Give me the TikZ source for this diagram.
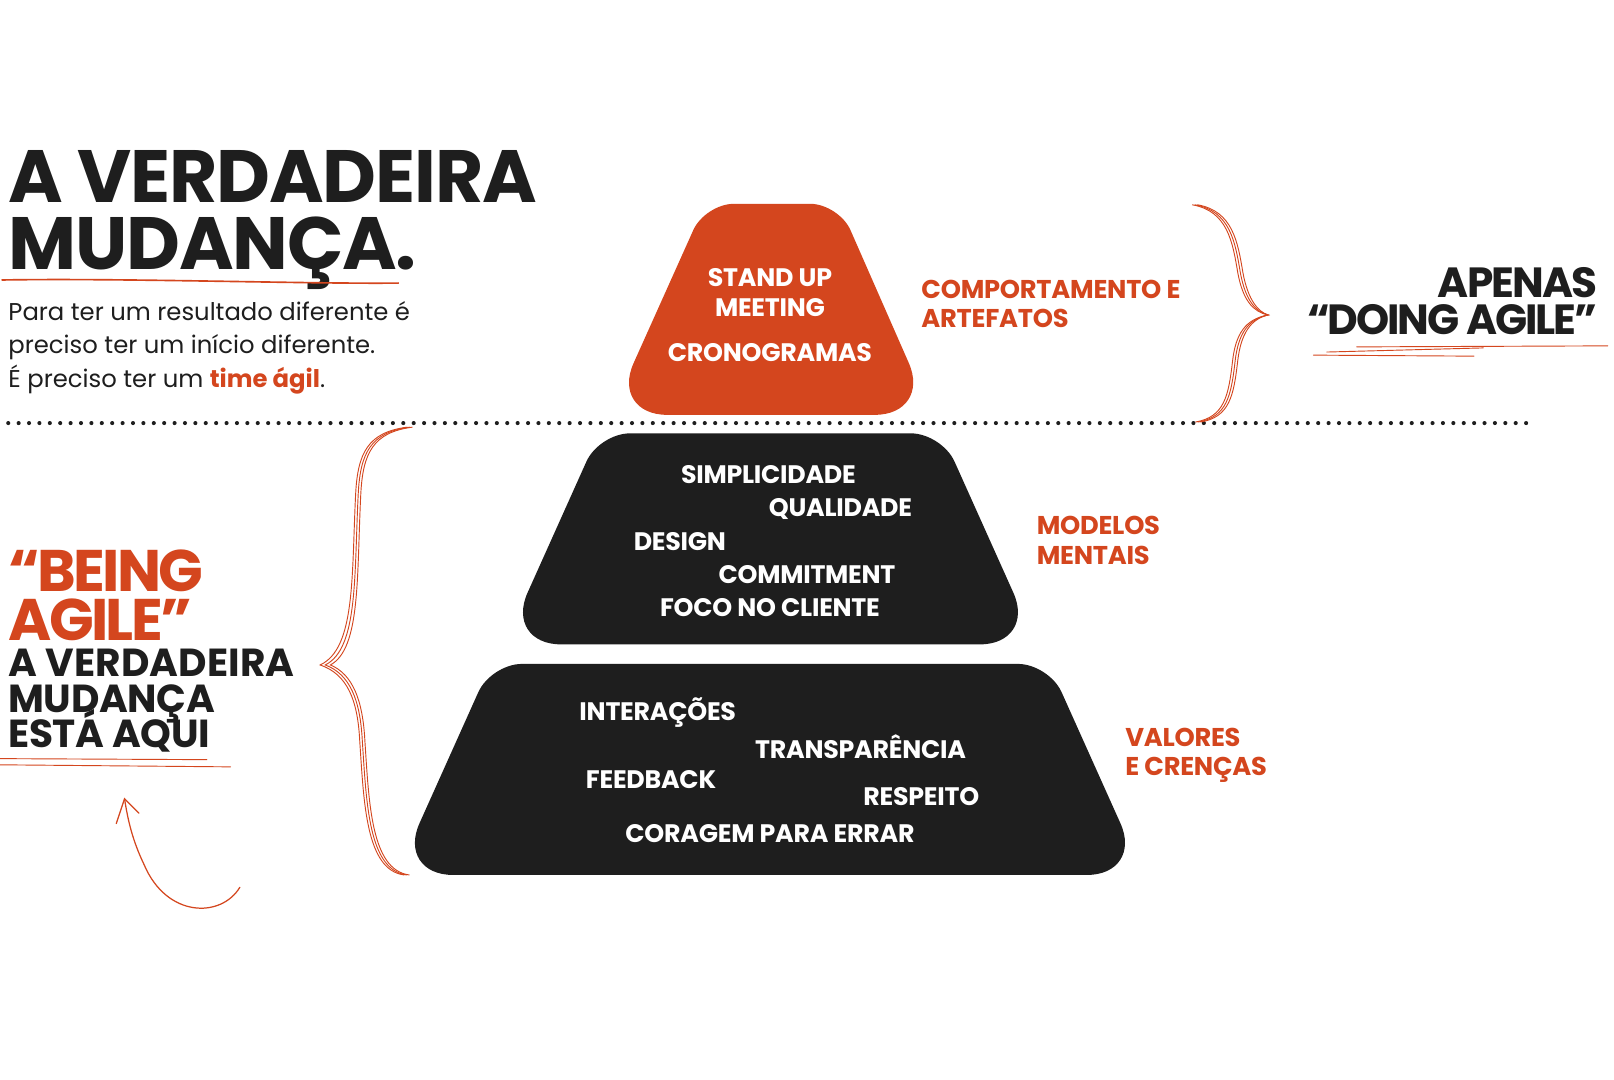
\documentclass[tikz,border=0pt]{standalone}
\usepackage{fontspec}
\setmainfont{Poppins}
\usetikzlibrary{positioning}
\definecolor{laranja}{HTML}{D4461E}
\definecolor{escuro}{HTML}{1E1E1E}
\tikzset{
  camada/.style={fill=escuro},
  palavra/.style={text=white,font=\bfseries\fontsize{24.6}{24.6}\selectfont\addfontfeature{LetterSpace=-1},inner sep=0pt,anchor=base},
  rotulo/.style={text=laranja,font=\bfseries\fontsize{25}{25}\selectfont\addfontfeature{LetterSpace=-1},inner sep=0pt,anchor=base west},
  titulo/.style={text=escuro,font=\bfseries\fontsize{72}{72}\selectfont\addfontfeature{LetterSpace=-1.6},inner sep=0pt,anchor=base west},
  texto/.style={text=escuro,font=\fontsize{23.6}{23.6}\selectfont,inner sep=0pt,anchor=base west},
  chamada/.style 2 args={font=\bfseries\fontsize{#1}{#1}\selectfont\addfontfeature{LetterSpace=#2},inner sep=0pt},
  traco/.style={draw=laranja,line width=0.9pt,line cap=round},
  pontos/.style={draw=escuro,line width=4pt,line cap=round,dash pattern=on 0pt off 10.1pt}
}
\begin{document}
\begin{tikzpicture}[x=1pt,y=-1pt]
\useasboundingbox[fill=white] (0,0) rectangle (1568,1049);

\node[titulo] (tit1) at (8,197) {A VERDADEIRA};
\node[titulo] (tit2) at (8,262) {MUDANÇA.};
\draw[traco,line width=1.6pt] (2,272) .. controls (120,270) and (300,276) .. (387,275);
\node[texto] (par1) at (8,311) {Para ter um resultado diferente é};
\node[texto] (par2) at (8,343.5) {preciso ter um início diferente.};
\node[texto] (par3) at (8,376) {É preciso ter um \textcolor{laranja}{\bfseries time ágil}.};

\draw[pontos] (8,411) -- (1485,411);

\fill[laranja] (749,403) [rounded corners=55pt] -- (593,403) [rounded corners=28pt] -- (685,198) -- (815,198) [rounded corners=55pt] -- (905,403) -- cycle;
\fill[camada] (748,626) [rounded corners=55pt] -- (490,626) [rounded corners=30pt] -- (582,421) -- (915,421) [rounded corners=55pt] -- (1007,626) -- cycle;
\fill[camada] (748,850) [rounded corners=55pt] -- (385,850) [rounded corners=30pt] -- (477,645) -- (1019,645) [rounded corners=55pt] -- (1111,850) -- cycle;

\node[palavra] (stand) at (748,278) {STAND UP};
\node[palavra] (meet) at (748,307) {MEETING};
\node[palavra] (crono) at (748,351.5) {CRONOGRAMAS};
\node[rotulo] (comp1) at (895,290) {COMPORTAMENTO E};
\node[rotulo] (comp2) at (895,318) {ARTEFATOS};

\node[palavra] (simp) at (746.5,469.5) {SIMPLICIDADE};
\node[palavra] (qual) at (816.5,501.5) {QUALIDADE};
\node[palavra] (desi) at (660.5,534.5) {DESIGN};
\node[palavra] (comm) at (784,566.5) {COMMITMENT};
\node[palavra] (foco) at (748,598.5) {FOCO NO CLIENTE};
\node[rotulo] (mod1) at (1007,519) {MODELOS};
\node[rotulo] (mod2) at (1007,548) {MENTAIS};

\node[palavra] (inte) at (639,699.5) {INTERAÇÕES};
\node[palavra] (tran) at (836,736.5) {TRANSPARÊNCIA};
\node[palavra] (feed) at (632.5,766.5) {FEEDBACK};
\node[palavra] (resp) at (895,782.5) {RESPEITO};
\node[palavra] (cora) at (748,818.5) {CORAGEM PARA ERRAR};
\node[rotulo] (val1) at (1093,725) {VALORES};
\node[rotulo] (val2) at (1093,753) {E CRENÇAS};

\node[chamada={41}{-4.5},text=escuro,anchor=base east] (apenas) at (1552,289) {APENAS};
\node[chamada={41}{-5},text=escuro,anchor=base east] (doing) at (1552,325) {“DOING AGILE”};
\draw[traco] (1276,345) -- (1432,346);
\draw[traco] (1289,342) -- (1441,338);
\draw[traco] (1318,337) -- (1562,336);

\foreach \d in {0,2.5,-2.5}{
  \draw[traco,xshift=\d] (1161,199) .. controls (1195,205) and (1200,235) .. (1205,265)
    .. controls (1210,292) and (1220,303) .. (1232-\d,306)
    .. controls (1212,310) and (1203,325) .. (1200,350)
    .. controls (1196,385) and (1192,405) .. (1164,410);
  \draw[traco,xshift=\d] (398,415) .. controls (360,420) and (350,440) .. (348,480)
    .. controls (344,560) and (348,630) .. (316+\d,646)
    .. controls (340,655) and (350,680) .. (352,720)
    .. controls (356,780) and (358,845) .. (395,850);
}

\node[chamada={57}{-4.5},text=laranja,anchor=base west] (being) at (8,575) {“BEING};
\node[chamada={57}{-4.5},text=laranja,anchor=base west] (agile) at (8,622) {AGILE”};
\node[chamada={38}{0.3},text=escuro,anchor=base west] (verd) at (8,657) {A VERDADEIRA};
\node[chamada={38}{-1},text=escuro,anchor=base west] (muda) at (8,692) {MUDANÇA};
\node[chamada={38}{-1},text=escuro,anchor=base west] (aqui) at (8,726) {ESTÁ AQUI};
\draw[traco] (0,737) -- (201,738);
\draw[traco] (0,743) -- (224,745);

\coordinate (seta0) at (233,862);
\coordinate (seta1) at (121,776);
\draw[traco,line width=1.2pt] (seta0) .. controls (215,892) and (162,892) .. (140,840)
  .. controls (128,815) and (124,795) .. (seta1);
\draw[traco,line width=1.2pt] (113,800) -- (seta1) -- (135,790);
\end{tikzpicture}
\end{document}
